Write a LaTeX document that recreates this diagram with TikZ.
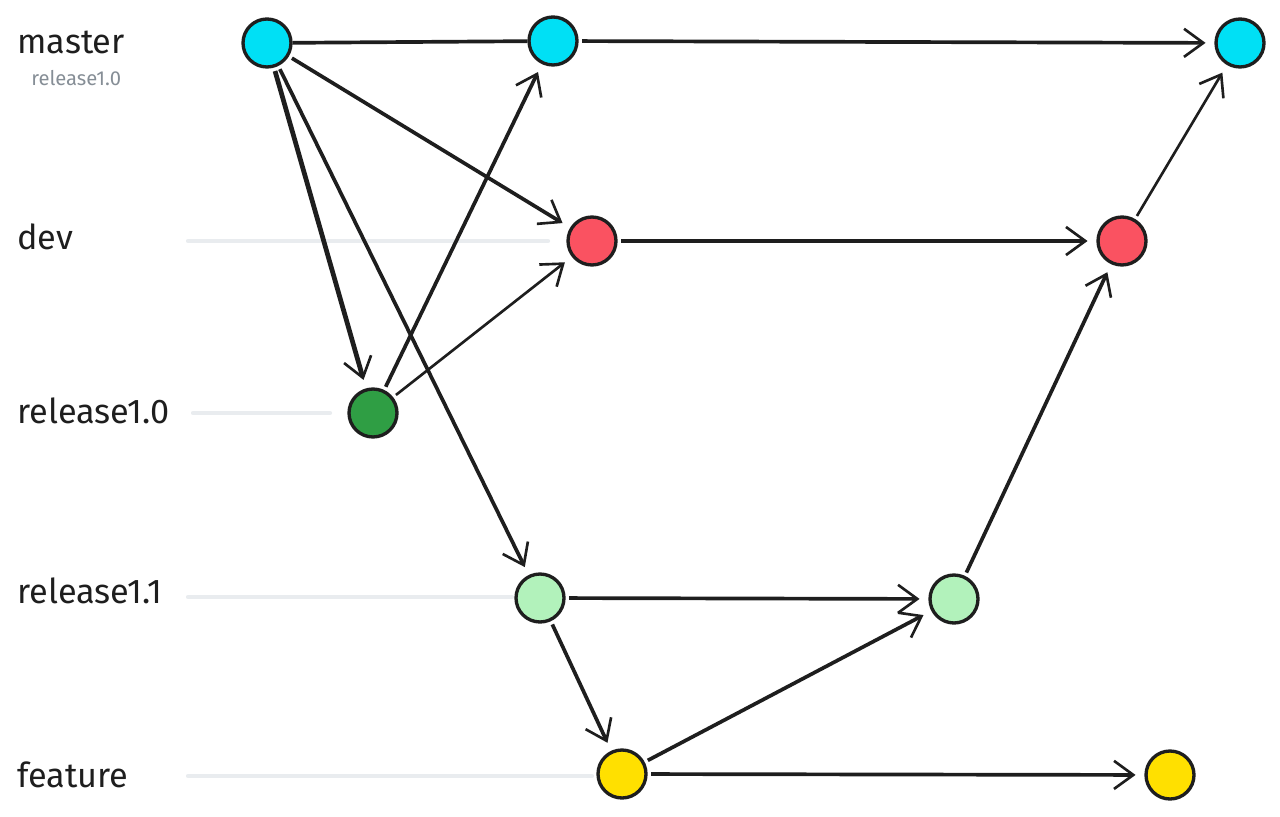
\documentclass[tikz,border=0pt]{standalone}
\usepackage{fontspec}
\setmainfont{Fira Sans}
\usetikzlibrary{arrows.meta}
\definecolor{cmaster}{RGB}{0,224,245}
\definecolor{cdev}{RGB}{250,82,97}
\definecolor{crelA}{RGB}{47,158,68}
\definecolor{crelB}{RGB}{178,242,187}
\definecolor{cfeat}{RGB}{255,224,0}
\definecolor{clane}{RGB}{233,236,239}
\definecolor{ctag}{RGB}{134,142,150}
\definecolor{cink}{RGB}{30,30,30}
\begin{document}
\begin{tikzpicture}[x=0.02cm, y=-0.02cm,
  commit/.style={circle, draw=cink, line width=1.9pt, minimum size=0.96cm, inner sep=0pt},
  branch/.style={anchor=west, font=\fontsize{19.5}{23}\selectfont, text=cink, inner sep=0pt},
  lane/.style={clane, line width=2.4pt, line cap=round},
  merge/.style={-{Straight Barb[length=11pt, width=16pt, line width=1.5pt]}, cink, line width=2.1pt, shorten >=5pt, shorten <=2pt},
  thinmerge/.style={merge, line width=1.5pt}]
\useasboundingbox (0,0) rectangle (1280,817);
% branch names
\node[branch] (lmaster) at (17,42) {master};
\node[anchor=west, font=\fontsize{11.5}{14}\selectfont, text=ctag, inner sep=0pt] (ltag) at (31,78) {release1.0};
\node[branch] (ldev) at (17,237) {dev};
\node[branch] (lrelA) at (17,411) {release1.0};
\node[branch] (lrelB) at (17,591) {release1.1};
\node[branch] (lfeat) at (17,775) {feature};
% lanes
\coordinate (dA) at (188,241); \coordinate (dB) at (548,241);
\coordinate (rA) at (193,413); \coordinate (rB) at (330,413);
\coordinate (sA) at (188,597); \coordinate (sB) at (512,597);
\coordinate (fA) at (188,776); \coordinate (fB) at (592,776);
\draw[lane] (dA) -- (dB);
\draw[lane] (rA) -- (rB);
\draw[lane] (sA) -- (sB);
\draw[lane] (fA) -- (fB);
% commits
\node[commit, fill=cmaster] (m1) at (267,43) {};
\node[commit, fill=cmaster] (m2) at (553,41) {};
\node[commit, fill=cmaster] (m3) at (1240,43) {};
\node[commit, fill=cdev] (d1) at (592,241) {};
\node[commit, fill=cdev] (d2) at (1122,241) {};
\node[commit, fill=crelA] (r1) at (373,413) {};
\node[commit, fill=crelB] (s1) at (540,598) {};
\node[commit, fill=crelB] (s2) at (954,599) {};
\node[commit, fill=cfeat] (f1) at (622,774) {};
\node[commit, fill=cfeat] (f2) at (1170,775) {};
% history
\draw[cink, line width=2.1pt] (m1) -- (m2);
\draw[merge] (m2) -- (m3);
\draw[merge] (m1) -- (d1);
\draw[merge, line width=2.7pt] (m1) -- (r1);
\draw[merge] (m1) -- (s1);
\draw[merge] (r1) -- (m2);
\draw[thinmerge] (r1) -- (d1);
\draw[merge] (d1) -- (d2);
\draw[thinmerge] (d2) -- (m3);
\draw[merge] (s1) -- (s2);
\draw[merge] (s2) -- (d2);
\draw[merge] (s1) -- (f1);
\draw[merge] (f1) -- (s2);
\draw[merge] (f1) -- (f2);
\end{tikzpicture}
\end{document}
